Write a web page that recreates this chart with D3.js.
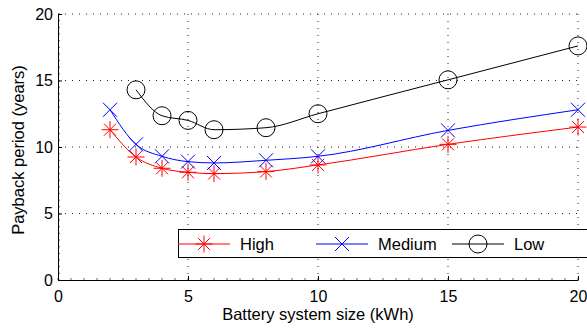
<!DOCTYPE html>
<html>
<head>
<meta charset="utf-8">
<script src="https://cdn.jsdelivr.net/npm/d3@7"></script>
<style>
  body { margin: 0; background: #fff; }
  text { font-family: "Liberation Sans", Arial, sans-serif; }
</style>
</head>
<body>
<svg id="vis" width="587" height="329"></svg>
<script>
// battery sizes (kWh)
var sizes = [2, 3, 4, 5, 6, 8, 10, 15, 20]
var high = [11.3, 9.25, 8.4, 8.1, 8.0, 8.15, 8.65, 10.2, 11.5]
var medium = [12.8, 10.2, 9.3, 8.9, 8.8, 9.0, 9.3, 11.25, 12.8]
// low has no point at 2 kWh
var lowSizes = [3, 4, 5, 6, 8, 10, 15, 20]
var low = [14.3, 12.35, 12.0, 11.3, 11.45, 12.5, 15.05, 17.6]
var xTicks = [0, 5, 10, 15, 20]
var yTicks = [0, 5, 10, 15, 20]

var margin = { top: 14, left: 58, bottom: 49, right: 9 }
var width = 587 - margin.left - margin.right,
    height = 329 - margin.top - margin.bottom

var svg = d3.select('#vis')
var g = svg.append('g')
  .attr('transform', 'translate(' + margin.left + ',' + margin.top + ')')

var x = d3.scaleLinear().domain([0, 20]).range([0, width])
var y = d3.scaleLinear().domain([0, 20]).range([height, 0])

// dotted grid
g.selectAll('.gx').data(xTicks.slice(1)).enter().append('line')
  .attr('x1', d => x(d)).attr('x2', d => x(d))
  .attr('y1', 0).attr('y2', height)
  .attr('stroke', '#222').attr('stroke-width', 1)
  .attr('stroke-dasharray', '1,6')
g.selectAll('.gy').data(yTicks.slice(1)).enter().append('line')
  .attr('x1', 0).attr('x2', width)
  .attr('y1', d => y(d)).attr('y2', d => y(d))
  .attr('stroke', '#222').attr('stroke-width', 1)
  .attr('stroke-dasharray', '1,6')

// minor ticks
var minor = d3.range(0, 20.01, 0.5)
g.selectAll('.mx').data(minor).enter().append('line')
  .attr('x1', d => x(d)).attr('x2', d => x(d))
  .attr('y1', height).attr('y2', height - 2)
  .attr('stroke', '#666')
g.selectAll('.my').data(minor).enter().append('line')
  .attr('y1', d => y(d)).attr('y2', d => y(d))
  .attr('x1', 0).attr('x2', 2)
  .attr('stroke', '#666')

var xAxis = g.append('g')
  .attr('transform', 'translate(0,' + height + ')')
  .call(d3.axisBottom(x).tickValues(xTicks).tickSize(-4).tickPadding(11).tickSizeOuter(0))
var yAxis = g.append('g')
  .call(d3.axisLeft(y).tickValues(yTicks).tickSize(-4).tickPadding(5).tickSizeOuter(0))
xAxis.selectAll('text').style('font-size', '16px').attr('fill', '#000')
yAxis.selectAll('text').style('font-size', '16px').attr('fill', '#000')
xAxis.select('.domain').attr('stroke', '#000')
yAxis.select('.domain').attr('stroke', '#000')

svg.append('text')
  .attr('x', margin.left + width / 2).attr('y', 320)
  .attr('text-anchor', 'middle').style('font-size', '16.5px')
  .text('Battery system size (kWh)')
svg.append('text')
  .attr('transform', 'translate(24,' + (margin.top + height / 2 + 3) + ') rotate(-90)')
  .attr('text-anchor', 'middle').style('font-size', '16.5px')
  .text('Payback period (years)')

var line = d3.line().x(d => x(d[0])).y(d => y(d[1])).curve(d3.curveMonotoneX)

function star(s, cx, cy, r, col) {
  var p = ''
  ;[0, 45, 90, 135].forEach(a => {
    var rad = a * Math.PI / 180, dx = r * Math.cos(rad), dy = r * Math.sin(rad)
    p += 'M' + (cx - dx) + ',' + (cy - dy) + 'L' + (cx + dx) + ',' + (cy + dy)
  })
  s.append('path').attr('d', p).attr('stroke', col).attr('fill', 'none').attr('stroke-width', 1)
}
function cross(s, cx, cy, r, col) {
  s.append('path')
    .attr('d', 'M' + (cx - r) + ',' + (cy - r) + 'L' + (cx + r) + ',' + (cy + r) +
      'M' + (cx - r) + ',' + (cy + r) + 'L' + (cx + r) + ',' + (cy - r))
    .attr('stroke', col).attr('fill', 'none').attr('stroke-width', 1)
}
function circ(s, cx, cy, r, col) {
  s.append('circle').attr('cx', cx).attr('cy', cy).attr('r', r)
    .attr('stroke', col).attr('fill', 'none').attr('stroke-width', 1)
}

var series = [
  { name: 'High', xs: sizes, ys: high, color: '#ff0000', mark: star, r: 8.5 },
  { name: 'Medium', xs: sizes, ys: medium, color: '#0000ff', mark: cross, r: 7 },
  { name: 'Low', xs: lowSizes, ys: low, color: '#000000', mark: circ, r: 9 }
]

series.forEach(s => {
  var pts = s.xs.map((v, i) => [v, s.ys[i]])
  g.append('path').datum(pts).attr('d', line)
    .attr('fill', 'none').attr('stroke', s.color).attr('stroke-width', 1)
  pts.forEach(p => s.mark(g, x(p[0]), y(p[1]), s.r, s.color))
})

// legend
var lg = svg.append('g')
lg.append('rect').attr('x', 178.5).attr('y', 229.5).attr('width', 420).attr('height', 28)
  .attr('fill', '#fff').attr('stroke', '#000')
var lx = [178, 316, 452]
series.forEach((s, i) => {
  var x0 = lx[i], cy = 244
  lg.append('line').attr('x1', x0).attr('x2', x0 + 52).attr('y1', cy).attr('y2', cy)
    .attr('stroke', s.color)
  s.mark(lg, x0 + 26, cy, s.r, s.color)
  lg.append('text').attr('x', x0 + 62).attr('y', cy + 6).style('font-size', '16.5px').text(s.name)
})
</script>
</body>
</html>
